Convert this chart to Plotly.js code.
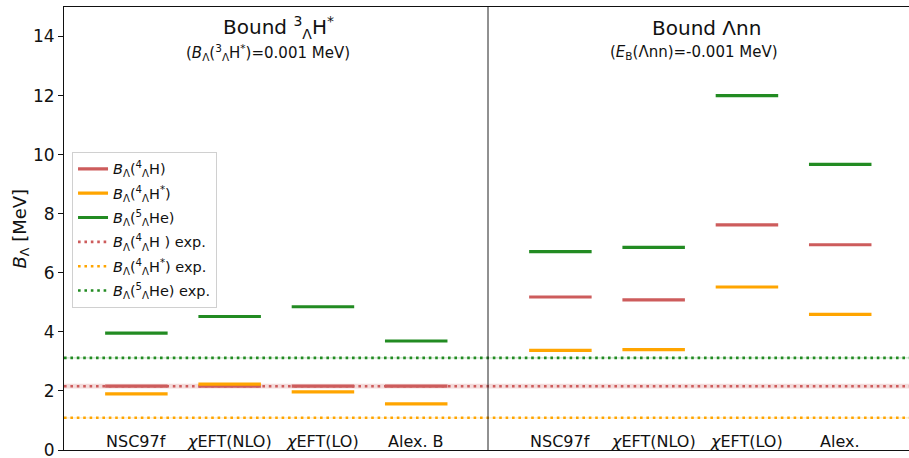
<!DOCTYPE html>
<html>
<head>
<meta charset="utf-8">
<script src="https://cdn.plot.ly/plotly-3.0.1.min.js"></script>
<style>html,body{margin:0;padding:0;background:#fff;}#chart{width:909px;height:458px;}</style>
</head>
<body>
<div id="chart"></div>
<script>
// ---- data ----
const categoriesLeft = ['NSC97f', '<i>χ</i>EFT(NLO)', '<i>χ</i>EFT(LO)', 'Alex. B'];
const categoriesRight = ['NSC97f', '<i>χ</i>EFT(NLO)', '<i>χ</i>EFT(LO)', 'Alex.'];
// left panel (bound 3ΛH*) then right panel (bound Λnn)
const bH4 = [2.16, 2.16, 2.16, 2.16, 5.18, 5.08, 7.62, 6.95];
const bH4star = [1.90, 2.23, 1.97, 1.56, 3.37, 3.40, 5.52, 4.59];
const bHe5 = [3.96, 4.52, 4.85, 3.69, 6.72, 6.86, 12.0, 9.67];
const expValues = [2.16, 1.09, 3.12];   // 4ΛH, 4ΛH*, 5ΛHe
const expErrors = [0.08, 0.02, 0.02];

const seriesNames = [
  '<i>B</i><sub>Λ</sub>(<sup>4</sup><sub>Λ</sub>H)',
  '<i>B</i><sub>Λ</sub>(<sup>4</sup><sub>Λ</sub>H<sup>*</sup>)',
  '<i>B</i><sub>Λ</sub>(<sup>5</sup><sub>Λ</sub>He)'
];
const expNames = [
  '<i>B</i><sub>Λ</sub>(<sup>4</sup><sub>Λ</sub>H ) exp.',
  '<i>B</i><sub>Λ</sub>(<sup>4</sup><sub>Λ</sub>H<sup>*</sup>) exp.',
  '<i>B</i><sub>Λ</sub>(<sup>5</sup><sub>Λ</sub>He) exp.'
];

// ---- styling ----
const colors = ['#cd5c5c', '#ffa500', '#228b22'];
const bandColors = ['rgba(205,92,92,0.22)', 'rgba(255,165,0,0.22)', 'rgba(34,139,34,0.22)'];
const FONT = 'DejaVu Sans, Liberation Sans, sans-serif';
const XMAX = 845 / 848;

function slotStart(i) { return 0.5 * Math.floor(i / 4) + 0.0485 + 0.11 * (i % 4); }
function slotEnd(i) { return slotStart(i) + 0.0737; }
function slotCenter(i) { return (slotStart(i) + slotEnd(i)) / 2; }

function segTrace(vals, k) {
  const x = [], y = [];
  vals.forEach((v, i) => { x.push(slotStart(i), slotEnd(i), null); y.push(v, v, null); });
  return {x, y, type: 'scatter', mode: 'lines', name: seriesNames[k], legendgroup: 'm' + k,
          line: {color: colors[k], width: 3.2}, legendrank: k + 1, hoverinfo: 'skip'};
}

const traces = [];
// experimental bands
expValues.forEach((v, k) => {
  const e = expErrors[k];
  traces.push({x: [0, XMAX, XMAX, 0], y: [v - e, v - e, v + e, v + e], type: 'scatter', mode: 'lines',
    fill: 'toself', fillcolor: bandColors[k], line: {width: 0}, showlegend: false, hoverinfo: 'skip'});
});
// experimental dotted lines
expValues.forEach((v, k) => {
  traces.push({x: [0, XMAX], y: [v, v], type: 'scatter', mode: 'lines', name: expNames[k], legendgroup: 'e' + k,
    line: {color: colors[k], width: 2.6, dash: '2.6px,3.8px'}, legendrank: 4 + k, hoverinfo: 'skip'});
});
// divider
traces.push({x: [0.5, 0.5], y: [0, 15], type: 'scatter', mode: 'lines', showlegend: false,
  line: {color: '#222', width: 1}, hoverinfo: 'skip'});
// model values
traces.push(segTrace(bH4, 0));
traces.push(segTrace(bH4star, 1));
traces.push(segTrace(bHe5, 2));

const annotations = [];
categoriesLeft.concat(categoriesRight).forEach((c, i) => {
  annotations.push({x: slotCenter(i), y: 0.30, xref: 'x', yref: 'y', text: c, showarrow: false,
    xanchor: 'center', yanchor: 'middle', font: {family: FONT, size: 16, color: '#111'}});
});
annotations.push(
  {x: 0.2524, y: 14.29, xref: 'x', yref: 'y', text: 'Bound <sup>3</sup><sub>Λ</sub>H<sup>*</sup>', showarrow: false,
   xanchor: 'center', yanchor: 'middle', font: {family: FONT, size: 20, color: '#111'}},
  {x: 0.2400, y: 13.45, xref: 'x', yref: 'y', text: '(<i>B</i><sub>Λ</sub>(<sup>3</sup><sub>Λ</sub>H<sup>*</sup>)=0.001 MeV)', showarrow: false,
   xanchor: 'center', yanchor: 'middle', font: {family: FONT, size: 15, color: '#111'}},
  {x: 0.7579, y: 14.29, xref: 'x', yref: 'y', text: 'Bound Λnn', showarrow: false,
   xanchor: 'center', yanchor: 'middle', font: {family: FONT, size: 20, color: '#111'}},
  {x: 0.7429, y: 13.45, xref: 'x', yref: 'y', text: '(<i>E</i><sub>B</sub>(Λnn)=-0.001 MeV)', showarrow: false,
   xanchor: 'center', yanchor: 'middle', font: {family: FONT, size: 15, color: '#111'}},
  {x: -0.052, y: 0.5, xref: 'paper', yref: 'paper', text: '<i>B</i><sub>Λ</sub> [MeV]', showarrow: false,
   textangle: -90, xanchor: 'center', yanchor: 'middle', font: {family: FONT, size: 18, color: '#111'}}
);

const layout = {
  width: 909, height: 458,
  margin: {l: 64, r: 0, t: 7, b: 8, pad: 0},
  paper_bgcolor: '#fff', plot_bgcolor: '#fff',
  font: {family: FONT, color: '#111'},
  showlegend: true,
  legend: {x: 0.0095, y: 0.673, xanchor: 'left', yanchor: 'top', bgcolor: 'rgba(255,255,255,0.85)',
           bordercolor: '#d0d0d0', borderwidth: 1, font: {family: FONT, size: 14.5, color: '#111'},
           traceorder: 'grouped', tracegroupgap: 2.5},
  xaxis: {range: [0, XMAX], showgrid: false, zeroline: false, showticklabels: false, ticks: '',
          showline: true, linecolor: '#111', linewidth: 1, mirror: true, fixedrange: true},
  yaxis: {range: [0, 15], showgrid: false, zeroline: false, showline: true, linecolor: '#111', linewidth: 1,
          ticks: 'outside', ticklen: 5, tickcolor: '#111', tickvals: [0, 2, 4, 6, 8, 10, 12, 14],
          ticklabeloverflow: 'allow',
          tickfont: {family: FONT, size: 17, color: '#111'}, fixedrange: true},
  annotations: annotations
};

Plotly.newPlot('chart', traces, layout, {displayModeBar: false, staticPlot: true});
</script>
</body>
</html>
